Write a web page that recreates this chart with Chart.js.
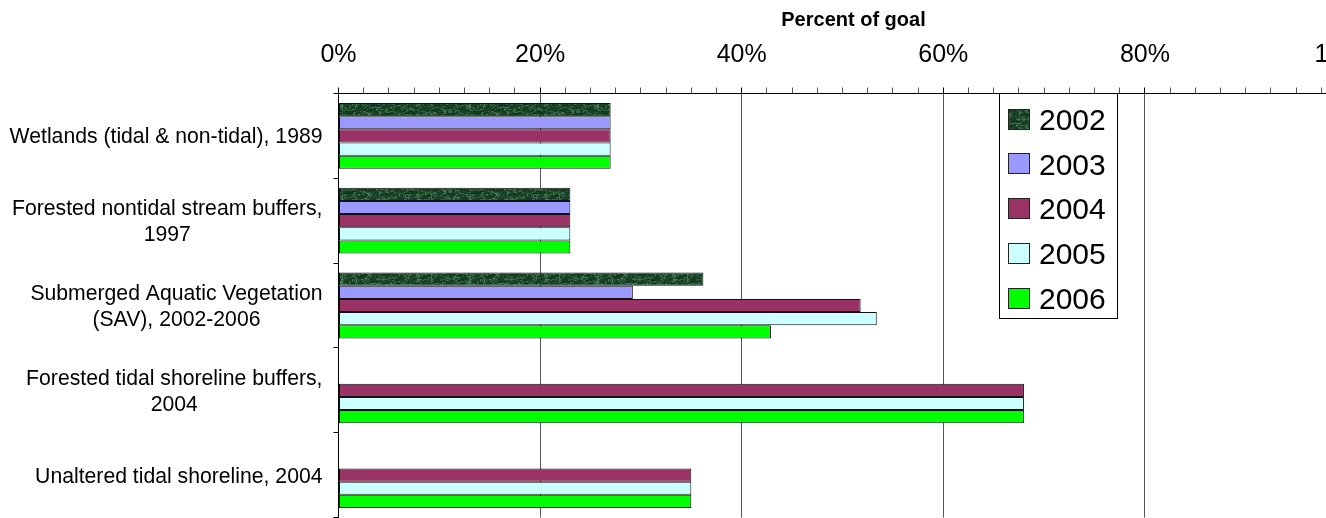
<!DOCTYPE html>
<html><head><meta charset="utf-8">
<script src="https://cdn.jsdelivr.net/npm/chart.js@4.4.1/dist/chart.umd.min.js"></script>
<style>html,body{margin:0;padding:0;background:#fff;overflow:hidden;width:1326px;height:518px}canvas{display:block}</style>
</head><body>
<canvas id="c" width="1400" height="518"></canvas>
<script>
// ---- data ----
const categories = [
  ["Wetlands (tidal & non-tidal), 1989"],
  ["Forested nontidal stream buffers,", "1997"],
  ["Submerged Aquatic Vegetation", "(SAV), 2002-2006"],
  ["Forested tidal shoreline buffers,", "2004"],
  ["Unaltered tidal shoreline, 2004"]
];
const seriesNames = ["2002", "2003", "2004", "2005", "2006"];
const values2002 = [27.0, 23.0, 36.2, null, null];
const values2003 = [27.0, 23.0, 29.2, null, null];
const values2004 = [27.0, 23.0, 51.8, 68.0, 35.0];
const values2005 = [27.0, 23.0, 53.4, 68.0, 35.0];
const values2006 = [27.0, 23.0, 42.9, 68.0, 35.0];
const xTitle = "Percent of goal";
const xMin = 0, xMax = 100, tickStep = 2.5, labelStep = 20;

// ---- styles ----
const FONT = "'Liberation Sans', Arial, sans-serif";
function marblePattern() {
  const w = 128, h = 16;
  const c = document.createElement('canvas'); c.width = w; c.height = h;
  const g = c.getContext('2d');
  const img = g.createImageData(w, h);
  const dark = [10, 48, 24], light = [110, 170, 125];
  const terms = [[3,1,0.3,1],[7,-1,1.7,0.7],[13,2,2.9,0.5],[22,-3,0.8,0.35],[37,1,4.1,0.25],[5,3,5.0,0.5],[29,-2,2.2,0.3]];
  const sa = terms.reduce((s, t) => s + t[3], 0);
  for (let y = 0; y < h; y++) for (let x = 0; x < w; x++) {
    let n = 0, m = 0;
    for (const [k, l, p, a] of terms) {
      n += a * Math.sin(2 * Math.PI * (k * x / w + l * y / h) + p);
      m += a * Math.cos(2 * Math.PI * (l * 2 * x / w + k * y / h) + p * 1.3);
    }
    n /= sa; m /= sa;
    let vein = Math.max(0, 1 - Math.abs(n) * 3.2);
    vein = Math.pow(vein, 2.5);
    let t = 0.55 * vein + 0.22 * (0.5 + 0.5 * m);
    t = Math.max(0, Math.min(1, t));
    const i = (y * w + x) * 4;
    for (let k = 0; k < 3; k++) img.data[i + k] = Math.round(dark[k] + (light[k] - dark[k]) * t);
    img.data[i + 3] = 255;
  }
  g.putImageData(img, 0, 0);
  return c;
}
const canvas = document.getElementById('c');
const ctx0 = canvas.getContext('2d');
const pat = ctx0.createPattern(marblePattern(), 'repeat');
const fills = [pat, '#9999FF', '#993366', '#CCFFFF', '#00FF00'];
const seriesValues = [values2002, values2003, values2004, values2005, values2006];

const datasets = seriesNames.map((n, i) => ({
  label: n,
  data: seriesValues[i],
  backgroundColor: fills[i],
  borderColor: '#111',
  borderWidth: 1,
  borderSkipped: false,
  categoryPercentage: 0.776,
  barPercentage: 1.0
}));

const yLabelPlugin = {
  id: 'yLabels',
  afterDraw(chart) {
    const ys = chart.scales.y, ctx = chart.ctx;
    ctx.save();
    ctx.font = '21.2px ' + FONT; ctx.fillStyle = '#000';
    ctx.textAlign = 'center'; ctx.textBaseline = 'alphabetic';
    chart.data.labels.forEach((lab, i) => {
      const lines = Array.isArray(lab) ? lab : [lab];
      const w = Math.max(...lines.map(l => ctx.measureText(l).width));
      const cx = ys.right - 16 - w / 2;
      const cy = ys.getPixelForValue(i);
      const lh = 25.7;
      lines.forEach((l, k) => ctx.fillText(l, cx, cy + (k - (lines.length - 1) / 2) * lh + 7.5));
    });
    ctx.restore();
  }
};
const titlePlugin = {
  id: 'xTitle',
  afterDraw(chart) {
    const ctx = chart.ctx, a = chart.chartArea;
    ctx.save();
    ctx.font = 'bold 20px ' + FONT; ctx.fillStyle = '#000';
    ctx.textAlign = 'center'; ctx.textBaseline = 'alphabetic';
    ctx.fillText(xTitle, (a.left + a.right) / 2 + 11, 26);
    ctx.restore();
  }
};
const legendPlugin = {
  id: 'boxLegend',
  afterDraw(chart) {
    const ctx = chart.ctx;
    const L = 999.5, T = 93.5, W = 118, H = 225;
    ctx.save();
    ctx.fillStyle = '#fff'; ctx.fillRect(L, T, W, H);
    ctx.strokeStyle = '#000'; ctx.lineWidth = 1; ctx.strokeRect(L, T, W, H);
    ctx.font = '30px ' + FONT; ctx.textAlign = 'left'; ctx.textBaseline = 'alphabetic';
    chart.data.datasets.forEach((ds, i) => {
      const cy = 119 + i * 44.8;
      ctx.fillStyle = ds.backgroundColor;
      ctx.fillRect(1008, Math.round(cy - 10.5), 22, 21);
      ctx.strokeStyle = '#222';
      ctx.strokeRect(1008.5, Math.round(cy - 10.5) + 0.5, 21, 20);
      ctx.fillStyle = '#000';
      ctx.fillText(ds.label, 1039, cy + 10.8);
    });
    ctx.restore();
  }
};

new Chart(canvas, {
  type: 'bar',
  data: { labels: categories, datasets },
  options: {
    indexAxis: 'y',
    responsive: false,
    animation: false,
    events: [],
    devicePixelRatio: 1,
    layout: { padding: { left: 0, right: 53.5, top: 0, bottom: 0.5 } },
    plugins: { legend: { display: false }, tooltip: { enabled: false }, title: { display: false } },
    scales: {
      x: {
        position: 'top',
        min: xMin, max: xMax,
        afterFit(s) { s.height = 93.5; },
        border: { display: true, color: '#000', width: 1 },
        grid: {
          drawTicks: true, tickLength: 6,
          color: c => (c.tick && c.tick.value % labelStep === 0 && c.tick.value !== 0) ? '#555' : 'rgba(0,0,0,0)',
          tickColor: c => (c.tick && c.tick.value % labelStep === 0) ? '#000' : '#555',
          lineWidth: 1
        },
        ticks: {
          stepSize: tickStep, autoSkip: false, maxRotation: 0, minRotation: 0,
          padding: 17,
          color: '#000',
          font: { family: FONT, size: 25 },
          callback: v => (v % labelStep === 0 ? v + '%' : '')
        }
      },
      y: {
        afterFit(s) { s.width = 338.5; },
        border: { display: true, color: '#000', width: 1 },
        grid: { offset: true, drawTicks: true, tickLength: 5, color: 'rgba(0,0,0,0)', tickColor: '#000' },
        ticks: { display: false }
      }
    }
  },
  plugins: [yLabelPlugin, titlePlugin, legendPlugin]
});
</script>
</body></html>
